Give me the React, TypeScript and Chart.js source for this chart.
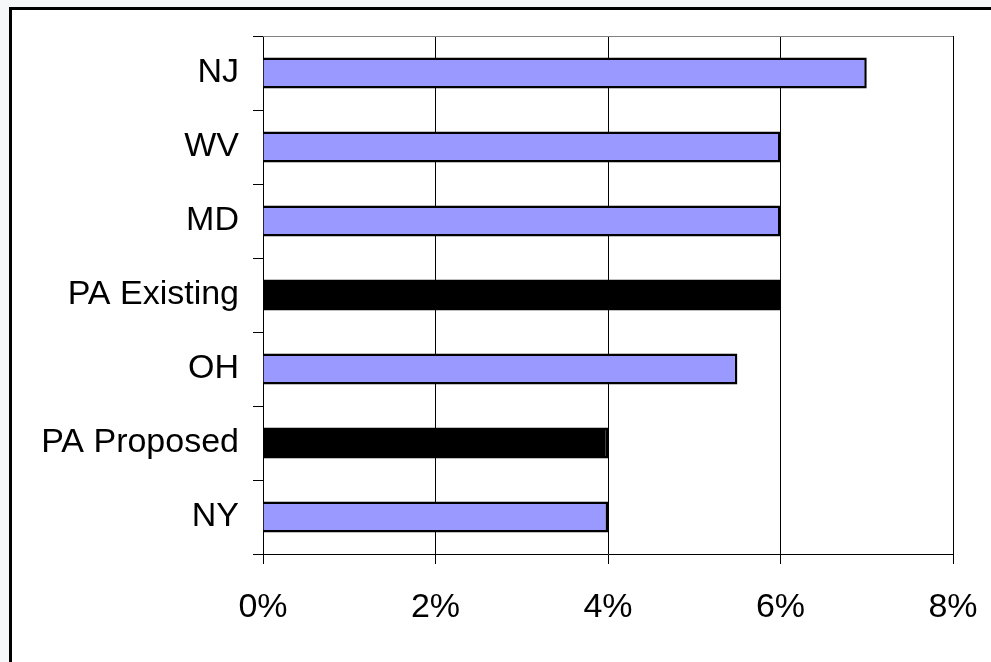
import React, { useEffect, useRef } from 'react';
import { Chart, registerables } from 'chart.js';
Chart.register(...registerables);

const categories = ['NJ', 'WV', 'MD', 'PA Existing', 'OH', 'PA Proposed', 'NY'];
const values = [7, 6, 6, 6, 5.5, 4, 4];
const barColors = ['#9999ff', '#9999ff', '#9999ff', '#000000', '#9999ff', '#000000', '#9999ff'];
const xTickValues = [0, 2, 4, 6, 8];

const FONT = { family: "'Liberation Sans', Arial, sans-serif", size: 34 };

const framePlugin = {
  id: 'frame',
  beforeDraw(chart: any) {
    const ctx = chart.ctx;
    ctx.save();
    ctx.fillStyle = '#f6f7f9';
    ctx.fillRect(0, 0, chart.width, chart.height);
    ctx.fillStyle = '#ffffff';
    ctx.fillRect(9, 7, chart.width, chart.height);
    ctx.strokeStyle = '#000000';
    ctx.lineWidth = 3;
    ctx.strokeRect(10.5, 8.5, chart.width + 20, chart.height + 20);
    ctx.restore();
  },
  beforeDatasetsDraw(chart: any) {
    const { ctx, chartArea } = chart;
    ctx.save();
    ctx.strokeStyle = '#808080';
    ctx.lineWidth = 1;
    ctx.beginPath();
    ctx.moveTo(chartArea.left, Math.round(chartArea.top) + 0.5);
    ctx.lineTo(chartArea.right, Math.round(chartArea.top) + 0.5);
    ctx.stroke();
    ctx.restore();
  },
};

export default function App() {
  const ref = useRef<HTMLCanvasElement | null>(null);
  useEffect(() => {
    if (!ref.current) return;
    const chart = new Chart(ref.current, {
      type: 'bar',
      data: {
        labels: categories,
        datasets: [
          {
            data: values,
            backgroundColor: barColors,
            borderColor: '#000000',
            borderWidth: 2.5,
            barPercentage: 0.42,
            categoryPercentage: 1,
          },
        ],
      },
      options: {
        indexAxis: 'y',
        animation: false,
        responsive: false,
        devicePixelRatio: 1,
        layout: { padding: { top: 36, right: 38, left: 0, bottom: 0 } },
        plugins: { legend: { display: false }, tooltip: { enabled: false } },
        scales: {
          x: {
            type: 'linear',
            min: 0,
            max: 8,
            afterBuildTicks: (s: any) => {
              s.ticks = xTickValues.map((v) => ({ value: v }));
            },
            ticks: {
              callback: (v: any) => v + '%',
              font: FONT,
              color: '#000000',
              padding: 23,
              maxRotation: 0,
            },
            grid: { color: '#000000', lineWidth: 1, tickLength: 10, drawTicks: true },
            border: { color: '#000000', width: 1 },
            afterFit: (s: any) => {
              s.height = 108;
              s.paddingLeft = 0;
              s.paddingRight = 0;
            },
          },
          y: {
            ticks: { font: FONT, color: '#000000', padding: 14 },
            grid: { drawOnChartArea: false, tickLength: 10, color: '#000000', offset: true },
            border: { color: '#000000', width: 1 },
            afterFit: (s: any) => {
              s.width = 263;
              s.paddingTop = 0;
              s.paddingBottom = 0;
            },
          },
        },
      },
      plugins: [framePlugin],
    } as any);
    return () => chart.destroy();
  }, []);
  return (
    <div style={{ position: 'fixed', left: 0, top: 0, width: 991, height: 662, overflow: 'hidden' }}>
      <canvas ref={ref} width={991} height={662} style={{ display: 'block' }} />
    </div>
  );
}
